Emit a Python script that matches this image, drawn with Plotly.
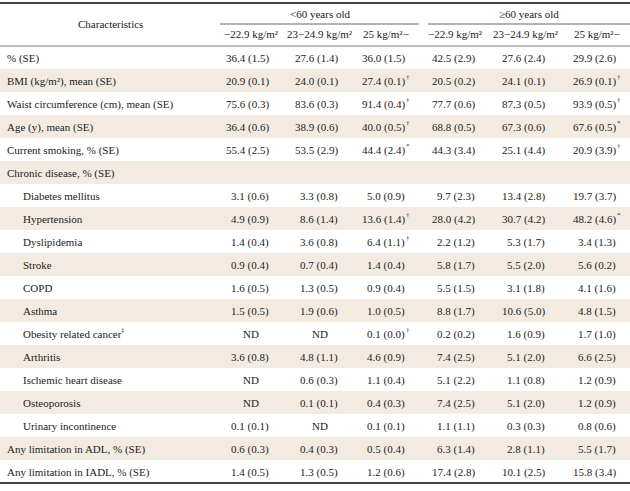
import plotly.graph_objects as go

# ---------------- data ----------------
row_labels = [
    "% (SE)", "BMI (kg/m²), mean (SE)", "Waist circumference (cm), mean (SE)",
    "Age (y), mean (SE)", "Current smoking, % (SE)", "Chronic disease, % (SE)",
    "Diabetes mellitus", "Hypertension", "Dyslipidemia", "Stroke", "COPD", "Asthma",
    "Obesity related cancer", "Arthritis", "Ischemic heart disease",
    "Osteoporosis", "Urinary incontinence", "Any limitation in ADL, % (SE)",
    "Any limitation in IADL, % (SE)",
]
row_indent = [0, 0, 0, 0, 0, 0, 1, 1, 1, 1, 1, 1, 1, 1, 1, 1, 1, 0, 0]
row_note = ["", "", "", "", "", "", "", "", "", "", "", "", "‡", "", "", "", "", "", ""]

group_labels = ["<60 years old", "≥60 years old"]
bmi_labels = ["−22.9 kg/m²", "23−24.9 kg/m²", "25 kg/m²−"]

# None = ND ; Chronic disease row is a blank section header
blank_rows = [5]

lt60_low_val = [36.4, 20.9, 75.6, 36.4, 55.4, None, 3.1, 4.9, 1.4, 0.9, 1.6, 1.5, None, 3.6, None, None, 0.1, 0.6, 1.4]
lt60_low_se  = [1.5, 0.1, 0.3, 0.6, 2.5, None, 0.6, 0.9, 0.4, 0.4, 0.5, 0.5, None, 0.8, None, None, 0.1, 0.3, 0.5]
lt60_mid_val = [27.6, 24.0, 83.6, 38.9, 53.5, None, 3.3, 8.6, 3.6, 0.7, 1.3, 1.9, None, 4.8, 0.6, 0.1, None, 0.4, 1.3]
lt60_mid_se  = [1.4, 0.1, 0.3, 0.6, 2.9, None, 0.8, 1.4, 0.8, 0.4, 0.5, 0.6, None, 1.1, 0.3, 0.1, None, 0.3, 0.5]
lt60_high_val = [36.0, 27.4, 91.4, 40.0, 44.4, None, 5.0, 13.6, 6.4, 1.4, 0.9, 1.0, 0.1, 4.6, 1.1, 0.4, 0.1, 0.5, 1.2]
lt60_high_se  = [1.5, 0.1, 0.4, 0.5, 2.4, None, 0.9, 1.4, 1.1, 0.4, 0.4, 0.5, 0.0, 0.9, 0.4, 0.3, 0.1, 0.4, 0.6]
lt60_high_sig = ["", "†", "†", "†", "*", "", "", "†", "†", "", "", "", "†", "", "", "", "", "", ""]

ge60_low_val = [42.5, 20.5, 77.7, 68.8, 44.3, None, 9.7, 28.0, 2.2, 5.8, 5.5, 8.8, 0.2, 7.4, 5.1, 7.4, 1.1, 6.3, 17.4]
ge60_low_se  = [2.9, 0.2, 0.6, 0.5, 3.4, None, 2.3, 4.2, 1.2, 1.7, 1.5, 1.7, 0.2, 2.5, 2.2, 2.5, 1.1, 1.4, 2.8]
ge60_mid_val = [27.6, 24.1, 87.3, 67.3, 25.1, None, 13.4, 30.7, 5.3, 5.5, 3.1, 10.6, 1.6, 5.1, 1.1, 5.1, 0.3, 2.8, 10.1]
ge60_mid_se  = [2.4, 0.1, 0.5, 0.6, 4.4, None, 2.8, 4.2, 1.7, 2.0, 1.8, 5.0, 0.9, 2.0, 0.8, 2.0, 0.3, 1.1, 2.5]
ge60_high_val = [29.9, 26.9, 93.9, 67.6, 20.9, None, 19.7, 48.2, 3.4, 5.6, 4.1, 4.8, 1.7, 6.6, 1.2, 1.2, 0.8, 5.5, 15.8]
ge60_high_se  = [2.6, 0.1, 0.5, 0.5, 3.9, None, 3.7, 4.6, 1.3, 0.2, 1.6, 1.5, 1.0, 2.5, 0.9, 0.9, 0.6, 1.7, 3.4]
ge60_high_sig = ["", "†", "†", "*", "†", "", "", "*", "", "", "", "", "", "", "", "", "", "", ""]

no_sig = [""] * len(row_labels)
columns = [
    (lt60_low_val, lt60_low_se, no_sig),
    (lt60_mid_val, lt60_mid_se, no_sig),
    (lt60_high_val, lt60_high_se, lt60_high_sig),
    (ge60_low_val, ge60_low_se, no_sig),
    (ge60_mid_val, ge60_mid_se, no_sig),
    (ge60_high_val, ge60_high_se, ge60_high_sig),
]

# ---------------- layout geometry ----------------
W, H = 630, 491
FONT = "Liberation Serif"
TXT = "#222222"
SIZE = 11
SHADE = "#f3ebe2"

row_top0 = 46
row_h = 23
col_right = [270, 339, 406, 476, 546, 617]
col_center = [251, 320, 386, 455, 526, 597]
group_span = [(220, 419), (428, 630)]
label_note_x = 120  # where the footnote mark after "Obesity related cancer" sits

shapes = []
ann = []

def line(x0, x1, y, color="#777", width=1):
    shapes.append(dict(type="line", xref="x", yref="y", x0=x0, x1=x1, y0=y, y1=y,
                       line=dict(color=color, width=width), layer="above"))

def text(x, y, s, anchor="left", size=SIZE, yanchor="middle"):
    ann.append(dict(x=x, y=y, xref="x", yref="y", text=s, showarrow=False,
                    xanchor=anchor, yanchor=yanchor, borderpad=0,
                    font=dict(family=FONT, size=size, color=TXT)))

# shaded bands
for i in range(len(row_labels)):
    if i % 2 == 1:
        y0 = row_top0 + i * row_h
        shapes.append(dict(type="rect", xref="x", yref="y", x0=0, x1=W, y0=y0, y1=y0 + row_h,
                           fillcolor=SHADE, line=dict(width=0), layer="below"))

# header lines
line(0, W, 3, color="#444", width=2)
for (a, b) in group_span:
    line(a, b, 24, color="#666", width=1)
line(0, W, row_top0, color="#777", width=1)
line(0, W, row_top0 + row_h * len(row_labels), color="#444", width=2)

# header text
text(110, 24, "Characteristics", anchor="center")
for (a, b), g in zip(group_span, group_labels):
    text((a + b) / 2, 14, g, anchor="center")
for k in range(6):
    text(col_center[k], 34, bmi_labels[k % 3], anchor="center")

# body
for i, lab in enumerate(row_labels):
    yc = row_top0 + i * row_h + row_h / 2 + 0.5
    text(22 if row_indent[i] else 6, yc, lab, anchor="left")
    if row_note[i]:
        text(label_note_x, yc - 4, row_note[i], anchor="left", size=7)
    if i in blank_rows:
        continue
    for k, (vals, ses, sigs) in enumerate(columns):
        v, se, sg = vals[i], ses[i], sigs[i]
        if v is None:
            text(col_center[k], yc, "ND", anchor="center")
            continue
        text(col_right[k], yc, f"{v:.1f} ({se:.1f})", anchor="right")
        if sg:
            text(col_right[k] - 1.5, yc - 4, sg, anchor="left", size=7)

fig = go.Figure()
fig.update_layout(
    width=W, height=H, margin=dict(l=0, r=0, t=0, b=0, pad=0),
    paper_bgcolor="white", plot_bgcolor="white",
    xaxis=dict(range=[0, W], visible=False, fixedrange=True),
    yaxis=dict(range=[H, 0], visible=False, fixedrange=True),
    shapes=shapes, annotations=ann, showlegend=False,
)
fig.write_html("out.html", config={"displayModeBar": False},
               post_script="document.body.style.margin='0';document.body.style.overflow='hidden';")
